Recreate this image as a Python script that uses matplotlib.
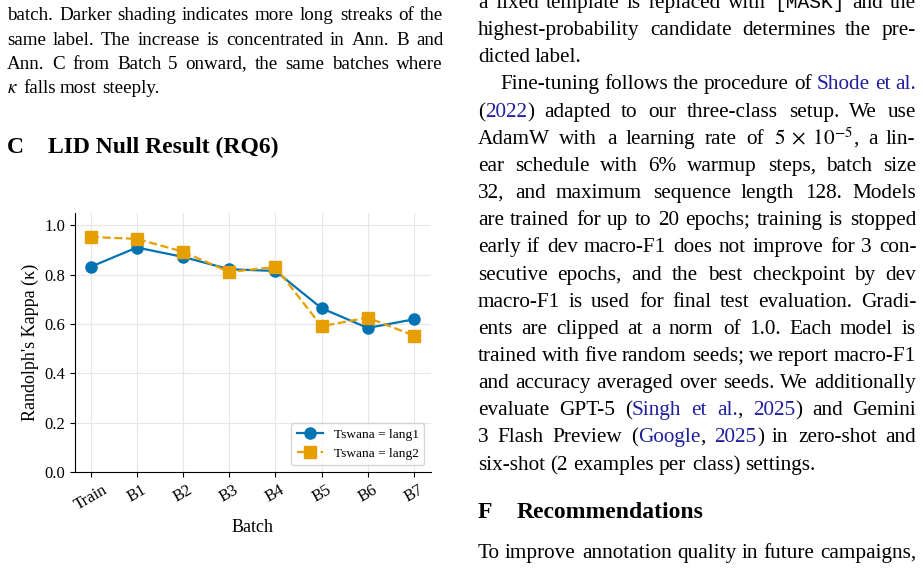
import re
import math
import matplotlib
matplotlib.use('Agg')
import matplotlib.pyplot as plt
from matplotlib.backends.backend_agg import get_hinting_flag

plt.rcParams['font.family'] = ['Liberation Serif', 'DejaVu Serif']
plt.rcParams['mathtext.fontset'] = 'stix'

W, H = 923, 572

# chart data
batches = ['Train', 'B1', 'B2', 'B3', 'B4', 'B5', 'B6', 'B7']
kappa_lang1 = [0.832, 0.910, 0.872, 0.822, 0.815, 0.664, 0.584, 0.619]
kappa_lang2 = [0.953, 0.945, 0.893, 0.811, 0.831, 0.591, 0.626, 0.553]
series_labels = ['Tswana = lang1', 'Tswana = lang2']
y_ticks = [0.0, 0.2, 0.4, 0.6, 0.8, 1.0]

# surrounding page text ({..} = link colour, `..` = typewriter)
caption_lines = [
    'batch. Darker shading indicates more long streaks of the',
    'same label. The increase is concentrated in Ann. B and',
    'Ann. C from Batch 5 onward, the same batches where',
    r'$\kappa$ falls most steeply.',
]
right_lines = [
    'a fixed template is replaced with `[MASK]` and the',
    'highest-probability candidate determines the pre-',
    'dicted label.',
    'Fine-tuning follows the procedure of {Shode} {et} {al.}',
    '({2022}) adapted to our three-class setup. We use',
    r'AdamW with a learning rate of $5\;\times\;10^{-5}$, a lin-',
    'ear schedule with 6% warmup steps, batch size',
    '32, and maximum sequence length 128. Models',
    'are trained for up to 20 epochs; training is stopped',
    'early if dev macro-F1 does not improve for 3 con-',
    'secutive epochs, and the best checkpoint by dev',
    'macro-F1 is used for final test evaluation. Gradi-',
    'ents are clipped at a norm of 1.0. Each model is',
    'trained with five random seeds; we report macro-F1',
    'and accuracy averaged over seeds. We additionally',
    'evaluate GPT-5 ({Singh} {et} {al.}, {2025}) and Gemini',
    '3 Flash Preview ({Google}, {2025}) in zero-shot and',
    'six-shot (2 examples per class) settings.',
]
last_lines_right = [2, 17]
indent_lines_right = [3]
bottom_line = 'To improve annotation quality in future campaigns,'

LINK = '#1f1fa0'
BODY = 15.3
CAPTION = 13.7
HEAD = 17.0

fig = plt.figure(figsize=(W / 100, H / 100), dpi=100)
renderer = fig.canvas.get_renderer()


def pieces(word):
    out = []
    for p in re.split(r'(\$[^$]*\$|\{[^}]*\}|`[^`]*`)', word):
        if not p:
            continue
        if p.startswith('{'):
            out.append((p[1:-1], dict(color=LINK)))
        elif p.startswith('`'):
            out.append((p[1:-1], dict(family='Liberation Mono', fontsize_scale=0.92)))
        else:
            out.append((p, {}))
    return out


def snapped_baseline(t, txt, row):
    # agg rounds each word's bitmap on its own; pick a baseline that lands on `row`
    if '$' in txt:
        return row
    font = renderer._prepare_font(t.get_fontproperties())
    font.set_text(txt, 0.0, flags=get_hinting_flag())
    b = font.get_descent() / 64
    a = font.get_width_height()[1] / 64 - b
    return row + math.floor(a + b) - math.floor(a) - b


def put_line(line, x0, x1, y, size, justify=True, indent=0):
    row = round(y)
    words = []
    for w in line.split():
        arts = []
        width = 0
        for txt, kw in pieces(w):
            kw = dict(kw)
            fs = size * kw.pop('fontsize_scale', 1.0)
            t = fig.text(0, 0, txt, fontsize=fs, va='baseline', ha='left', **kw)
            bw = t.get_window_extent(renderer).width
            arts.append((t, txt, width))
            width += bw
        words.append((arts, width))
    total = sum(w for _, w in words)
    x = x0 + indent
    if justify and len(words) > 1:
        gap = (x1 - x - total) / (len(words) - 1)
    else:
        gap = size * 100 / 72 * 0.25
    for arts, width in words:
        for t, txt, off in arts:
            yy = snapped_baseline(t, txt, row)
            t.set_position((round(x + off) / W, 1 - yy / H))
        x += width + gap


# left column: caption end and section heading
for i, line in enumerate(caption_lines):
    put_line(line, 7, 443, 20.5 + 24.2 * i, CAPTION, justify=(i < len(caption_lines) - 1))
fig.text(7 / W, 1 - 153 / H, 'C', fontsize=HEAD, fontweight='bold', va='baseline')
fig.text(48 / W, 1 - 153 / H, 'LID Null Result (RQ6)', fontsize=HEAD,
         fontweight='bold', va='baseline')

# right column
for i, line in enumerate(right_lines):
    put_line(line, 478, 916, 8 + 27.15 * i, BODY,
             justify=(i not in last_lines_right),
             indent=22 if i in indent_lines_right else 0)
fig.text(478 / W, 1 - 518 / H, 'F', fontsize=HEAD, fontweight='bold', va='baseline')
fig.text(517 / W, 1 - 518 / H, 'Recommendations', fontsize=HEAD,
         fontweight='bold', va='baseline')
put_line(bottom_line, 478, 916, 558, BODY)

# the chart
ax = fig.add_axes([75 / W, 1 - 472 / H, (431 - 75) / W, (472 - 213) / H])
x = list(range(len(batches)))
ax.plot(x, kappa_lang1, '-o', color='#0173B2', lw=1.6, ms=8, label=series_labels[0])
ax.plot(x, kappa_lang2, '--s', color='#E69F00', lw=1.6, ms=8, label=series_labels[1])
ax.set_xlim(-0.34, 7.37)
ax.set_ylim(0, 1.05)
ax.set_yticks(y_ticks, [f'{v:.1f}' for v in y_ticks])
ax.set_xticks(x, batches, rotation=30)
ax.tick_params(labelsize=12)
ax.set_xlabel('Batch', fontsize=13)
ax.set_ylabel("Randolph's Kappa (κ)", fontsize=13)
ax.grid(True, color='#e6e6e6', lw=0.8)
ax.set_axisbelow(True)
for s in ['top', 'right']:
    ax.spines[s].set_visible(False)
ax.legend(loc='lower right', fontsize=9.6)

fig.savefig('out.png', dpi=100)
